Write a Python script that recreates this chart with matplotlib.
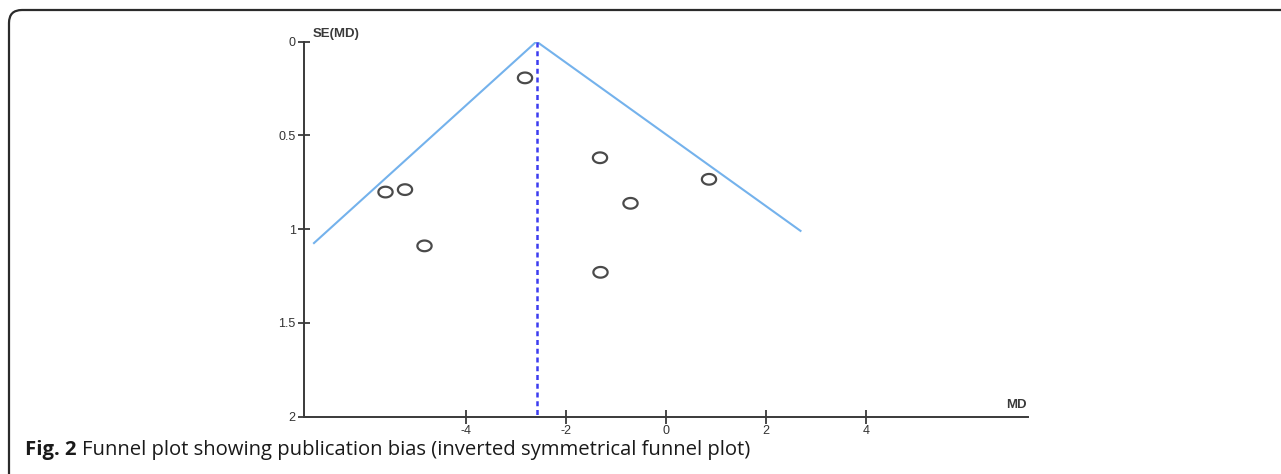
import numpy as np
import matplotlib.pyplot as plt
from matplotlib.path import Path
from matplotlib.patches import FancyBboxPatch
from matplotlib.transforms import IdentityTransform

# study estimates
md = [-2.82, -1.32, 0.86, -0.71, -5.61, -5.22, -4.83, -1.31]
se = [0.194, 0.620, 0.735, 0.863, 0.803, 0.790, 1.090, 1.231]

pooled_md = -2.59
# funnel edges (left end, apex, right end)
funnel_x = [-7.04, pooled_md, 2.69]
funnel_y = [1.075, 0.0, 1.01]

xticks = [-4, -2, 0, 2, 4]
yticks = [0, 0.5, 1, 1.5, 2]
ytick_labels = ['0', '0.5', '1', '1.5', '2']

W, H = 1281, 474
fig = plt.figure(figsize=(W / 100, H / 100), dpi=100)

# panel frame, rounded top-left corner, open to the right and bottom
frame = FancyBboxPatch((9, -200), 2000, H - 10 + 200,
                       boxstyle='round,pad=0,rounding_size=13',
                       transform=IdentityTransform(), fill=False,
                       edgecolor='#2b2b2b', linewidth=1.6)
fig.patches.append(frame)

ax = fig.add_axes([304 / W, 1 - 416.5 / H, (1028 - 304) / W, (416.5 - 41.5) / H])

# slightly flattened circle marker
t = np.linspace(0, 2 * np.pi, 60)
ell = Path(np.column_stack([np.cos(t), 0.75 * np.sin(t)]), closed=True)

ax.plot(funnel_x, funnel_y, color='#74b2ec', linewidth=1.5, zorder=2)
ax.plot([pooled_md, pooled_md], [0, 2], color='#3c3cf0', linewidth=1.8,
        linestyle=(0, (2.0, 1.5)), zorder=2)
ax.scatter(md, se, marker=ell, s=105, facecolors='none', edgecolors='#4a4a4a',
           linewidths=1.6, zorder=3)

ax.set_xlim(-7.24, 7.24)
ax.set_ylim(2, 0)
for s in ['top', 'right']:
    ax.spines[s].set_visible(False)
for s in ['left', 'bottom']:
    ax.spines[s].set_color('#3a3a3a')
    ax.spines[s].set_linewidth(1.4)

ax.set_xticks(xticks)
ax.set_xticklabels([str(v) for v in xticks])
ax.set_yticks(yticks)
ax.set_yticklabels(ytick_labels)
ax.tick_params(axis='both', direction='inout', length=8, width=1.3, color='#3a3a3a',
               labelsize=9, labelcolor='#333333', pad=2)
ax.tick_params(axis='x', length=10, pad=1)
for lab in ax.get_xticklabels() + ax.get_yticklabels():
    lab.set_family('Liberation Sans')

ax.text(313, H - 40, 'SE(MD)', transform=IdentityTransform(), ha='left', va='bottom',
        fontsize=9.5, fontweight='bold', color='#3a3a3a', family='Liberation Sans')
ax.text(1027, H - 411, 'MD', transform=IdentityTransform(), ha='right', va='bottom',
        fontsize=9.5, fontweight='bold', color='#3a3a3a', family='Liberation Sans')

# caption: bold figure number then plain text right after it
cap_y = 1 - 450 / H
t1 = fig.text(25 / W, cap_y, 'Fig. 2', ha='left', va='center', fontsize=14.6,
              fontweight='bold', family='Open Sans', color='#1a1a1a')
fig.canvas.draw()
bb = t1.get_window_extent()
fig.text((bb.x1 + 5) / W, cap_y, 'Funnel plot showing publication bias (inverted symmetrical funnel plot)',
         ha='left', va='center', fontsize=14.6, family='Open Sans', color='#1a1a1a')

fig.savefig('out.png', dpi=100)
